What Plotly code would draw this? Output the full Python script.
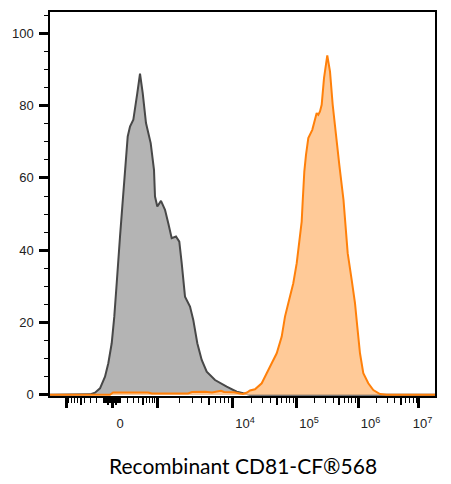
import numpy as np
import plotly.graph_objects as go

# ---------------- data (x in display channels 0-1024, y in % of max) ----------------
gray_x = [0, 26.6, 93.1, 106.4, 119.7, 133.0, 146.3, 155.1, 164.1, 171.0, 177.4, 182.7,
          186.2, 192.3, 195.0, 199.5, 206.7, 212.8, 221.6, 232.2, 239.4, 246.6, 255.3,
          267.8, 276.6, 279.3, 285.4, 295.2, 305.9, 314.6, 323.7, 335.1, 343.9, 350.3,
          359.1, 372.4, 381.1, 391.8, 403.5, 416.8, 438.9, 470.0, 496.6, 514.1, 531.9,
          585.0, 1024]
gray_y = [0, 0, 0, 0.1, 0.55, 1.77, 4.99, 8.70, 14.24, 21.61, 30.86, 37.31,
          43.77, 52.08, 55.79, 62.24, 71.47, 74.24, 76.09, 83.49, 88.84, 83.49, 75.18,
          69.64, 62.24, 54.85, 52.08, 53.66, 51.16, 47.48, 43.32, 43.77, 42.38, 36.40,
          27.15, 24.38, 20.69, 14.24, 9.61, 6.37, 4.07, 2.22, 0.83, 0.39, 0,
          0, 0]

orange_x = [0, 146.3, 159.6, 167.6, 212.8, 260.7, 271.3, 367.0, 377.7, 412.3, 430.9,
            446.8, 454.8, 462.8, 489.4, 505.4, 513.3, 524.0, 531.9, 545.2, 563.1, 576.4,
            589.7, 603.0, 616.3, 625.0, 633.8, 647.1, 656.2, 664.9, 669.4, 672.1, 676.4,
            680.9, 687.0, 697.6, 702.9, 709.3, 713.6, 718.1, 722.6, 728.8, 737.5, 744.7,
            751.9, 760.7, 769.5, 780.6, 784.6, 791.8, 802.4, 811.2, 817.3, 824.5, 833.3,
            846.6, 859.9, 877.7, 895.5, 1024]
orange_y = [0, 0, 0, 0.61, 0.66, 0.61, 0.33, 0.33, 0.75, 0.80, 0.61,
            0.80, 1.08, 0.75, 0.66, 0.33, 0.19, 0.61, 1.16, 1.50, 3.16, 5.93,
            8.70, 11.47, 16.07, 21.61, 25.32, 30.86, 36.40, 43.77, 47.92, 53.46, 61.77,
            66.40, 71.02, 73.32, 75.62, 77.95, 77.48, 78.39, 80.25, 87.65, 93.91, 89.47,
            80.25, 71.02, 63.63, 53.93, 48.39, 39.17, 31.77, 25.32, 18.84, 11.47, 5.93,
            3.16, 1.30, 0.19, 0, 0]

# ---------------- axis scale (biexponential display) ----------------
anchor_vals = [-1000, 0, 1000, 1e4, 1e5, 1e6, 1e7]
anchor_ch = [44.4, 164.9, 284.6, 484.1, 654.3, 819.2, 981.4]
W = 250.0


def T(v):
    v = np.asarray(v, dtype=float)
    return np.interp(np.arcsinh(v / W), np.arcsinh(np.array(anchor_vals) / W), anchor_ch)


major_vals = [-1000, 0, 1000, 1e4, 1e5, 1e6, 1e7]
mid_vals = [-500, -50, 50, 500, 5e3, 5e4, 5e5, 5e6]
minor_vals = ([-k * 100 for k in range(1, 10)] + [-k * 10 for k in range(1, 10)] +
              [k * 10 for k in range(1, 10)] + [k * 100 for k in range(1, 10)])
for d in [1e3, 1e4, 1e5, 1e6]:
    minor_vals += [k * d for k in range(2, 10)]

label_vals = [0, 1e4, 1e5, 1e6, 1e7]
label_text = ["0", "10<sup>4</sup>", "10<sup>5</sup>", "10<sup>6</sup>", "10<sup>7</sup>"]
label_shift_px = [8, 13, 13, 12.5, 3.5]

# page body has an 8px margin, so the figure is sized/offset to compensate
XR = [0, 1024]
YR = [-0.36, 105.93]
W_PX, H_PX = 443, 476
ML, MR, MT, MB = 42, 16, 4, 88
plot_w = W_PX - ML - MR
ch_per_px = (XR[1] - XR[0]) / plot_w
label_pos = list(T(label_vals) + np.array(label_shift_px) * ch_per_px)

tick_font = dict(family="Liberation Sans, Arial, sans-serif", size=13, color="#222222")

fig = go.Figure()
fig.add_trace(go.Scatter(x=gray_x, y=gray_y, mode="lines", fill="tozeroy",
                         fillcolor="rgb(180,180,180)",
                         line=dict(color="rgb(72,72,72)", width=2), hoverinfo="skip"))
fig.add_trace(go.Scatter(x=orange_x, y=orange_y, mode="lines", fill="tozeroy",
                         fillcolor="rgb(255,202,152)",
                         line=dict(color="rgb(255,128,10)", width=2), hoverinfo="skip"))
fig.add_trace(go.Scatter(x=[], y=[], xaxis="x2", showlegend=False))
fig.add_trace(go.Scatter(x=[], y=[], xaxis="x3", showlegend=False))

fig.update_layout(
    width=W_PX, height=H_PX,
    margin=dict(l=ML, r=MR, t=MT, b=MB, pad=0, autoexpand=False),
    plot_bgcolor="white", paper_bgcolor="white",
    showlegend=False,
    xaxis=dict(range=XR, showgrid=False, zeroline=False, automargin=False,
               showline=True, linecolor="black", linewidth=1.5, mirror=True,
               tickmode="array", tickvals=list(T(major_vals)), ticks="outside",
               ticklen=10, tickwidth=3, tickcolor="black", showticklabels=False,
               minor=dict(tickmode="array", tickvals=list(T(minor_vals)), ticks="outside",
                          ticklen=5, tickwidth=1, tickcolor="black")),
    xaxis2=dict(range=XR, overlaying="x", anchor="y", side="bottom", showgrid=False,
                zeroline=False, showline=False, ticks="", tickmode="array", automargin=False,
                tickvals=label_pos, ticktext=label_text, tickfont=tick_font,
                ticklabelstandoff=18),
    xaxis3=dict(range=XR, overlaying="x", anchor="y", side="bottom", showgrid=False,
                zeroline=False, showline=False, ticks="outside", tickmode="array",
                automargin=False,
                tickvals=list(T(mid_vals)), ticklen=8, tickwidth=1.5, tickcolor="black",
                showticklabels=False),
    yaxis=dict(range=YR, showgrid=False, zeroline=False, automargin=False,
               showline=True, linecolor="black", linewidth=1.5, mirror=True,
               tickmode="array", tickvals=[0, 20, 40, 60, 80, 100], ticks="outside",
               ticklen=9, tickwidth=3, tickcolor="black", tickfont=tick_font,
               ticklabelstandoff=3,
               minor=dict(tickmode="array", tickvals=list(range(0, 106, 5)), ticks="outside",
                          ticklen=4, tickwidth=1, tickcolor="black")),
)

title_y = -(457 - (H_PX - MB)) / (H_PX - MT - MB)
fig.add_annotation(text="Recombinant CD81-CF®568", xref="paper", yref="paper",
                   x=0.5, y=title_y, xanchor="center", yanchor="middle",
                   showarrow=False, font=dict(family="Lato", size=21, color="black"))

fig.write_html("out.html")
